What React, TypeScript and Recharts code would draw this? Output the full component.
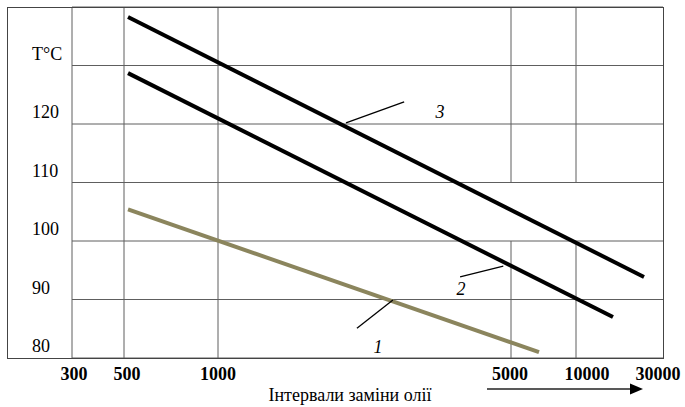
import { ComposedChart, Line, XAxis, YAxis, CartesianGrid, ReferenceLine, ReferenceDot } from "recharts"

// oil change interval (km) ticks printed under the grid
const INTERVAL_TICKS = [300, 500, 1000, 5000, 10000, 30000]
const TEMP_TICKS = [80, 90, 100, 110, 120, 130]
const TEMP_LABELS = ["80", "90", "100", "110", "120", "T°C"]

// curve 1 (olive), 2 and 3 (black): interval -> temperature
const LINE1_X = [515, 6740]
const LINE1_T = [105.4, 81.0]
const LINE2_X = [515, 15950]
const LINE2_T = [128.7, 87.0]
const LINE3_X = [515, 23600]
const LINE3_T = [138.3, 93.85]

// leader lines + curve numbers
const NOTE_NAMES = ["1", "2", "3"]
const NOTE_X = [2407, 3798, 3385]
const NOTE_T = [81.9, 91.8, 122.05]
const LEADER_X1 = [2145, 3780, 2020]
const LEADER_T1 = [85.1, 93.85, 120.2]
const LEADER_X2 = [2614, 4792, 2780]
const LEADER_T2 = [89.9, 95.7, 123.8]

// the printed grid is not a true log scale: spacing of the tick columns
const TICK_STOPS = [0, 52, 146, 439, 504, 591]
const LABEL_NUDGE = [2, 3, 0, -1, 11, -5]

const FONT = '"Liberation Serif", "Times New Roman", serif'
const GRID = "#5e5e5e"

const toAxis = (v: number) => {
  const t = INTERVAL_TICKS
  let i = 0
  while (i < t.length - 2 && v > t[i + 1]) i++
  const frac = Math.log(v / t[i]) / Math.log(t[i + 1] / t[i])
  return TICK_STOPS[i] + frac * (TICK_STOPS[i + 1] - TICK_STOPS[i])
}

const series = (xs: number[], ts: number[]) => xs.map((x, i) => ({ x: toAxis(x), t: ts[i] }))

const line1 = series(LINE1_X, LINE1_T)
const line2 = series(LINE2_X, LINE2_T)
const line3 = series(LINE3_X, LINE3_T)

const XTick = ({ x, index }: any) => (
  <text x={x + (LABEL_NUDGE[index] ?? 0)} y={380} textAnchor="middle" fontFamily={FONT} fontSize={18} fontWeight="bold" fill="#000">
    {INTERVAL_TICKS[index]}
  </text>
)

const YTick = ({ y, payload }: any) => {
  const i = TEMP_TICKS.indexOf(payload.value)
  return (
    <text x={32} y={y - 6} textAnchor="start" fontFamily={FONT} fontSize={18} fill="#000">
      {TEMP_LABELS[i]}
    </text>
  )
}

const NoteText = (name: string) => (props: any) => (
  <text x={props.cx} y={props.cy} textAnchor="middle" dominantBaseline="central" fontFamily={FONT} fontSize={18} fontStyle="italic" fill="#000">
    {name}
  </text>
)

export default function App() {
  return (
    <div style={{ position: "absolute", left: 0, top: 0, width: 685, height: 407, background: "#fff" }}>
      <ComposedChart width={685} height={407} margin={{ top: 7, right: 22, left: 7, bottom: 0 }}>
        <CartesianGrid vertical={false} stroke={GRID} />
        <XAxis
          type="number"
          dataKey="x"
          domain={[0, 591]}
          ticks={INTERVAL_TICKS.map(toAxis)}
          tick={<XTick />}
          axisLine={false}
          tickLine={false}
          height={49}
          allowDataOverflow
        />
        <YAxis
          type="number"
          domain={[80, 140]}
          ticks={TEMP_TICKS}
          tick={<YTick />}
          axisLine={false}
          tickLine={false}
          width={65}
          allowDataOverflow
        />
        <ReferenceLine x={toAxis(300)} stroke={GRID} />
        <ReferenceLine x={toAxis(500)} stroke={GRID} />
        <ReferenceLine x={toAxis(1000)} stroke={GRID} />
        <ReferenceLine segment={[{ x: toAxis(5000), y: 110 }, { x: toAxis(5000), y: 140 }]} stroke={GRID} />
        <ReferenceLine segment={[{ x: toAxis(5000), y: 80 }, { x: toAxis(5000), y: 100 }]} stroke={GRID} />
        <ReferenceLine segment={[{ x: toAxis(10000), y: 110 }, { x: toAxis(10000), y: 140 }]} stroke={GRID} />
        <ReferenceLine segment={[{ x: toAxis(10000), y: 80 }, { x: toAxis(10000), y: 100 }]} stroke={GRID} />

        <Line data={line1} dataKey="t" stroke="#8b855d" strokeWidth={4} dot={false} isAnimationActive={false} />
        <Line data={line2} dataKey="t" stroke="#000" strokeWidth={4} dot={false} isAnimationActive={false} />
        <Line data={line3} dataKey="t" stroke="#000" strokeWidth={4} dot={false} isAnimationActive={false} />

        {NOTE_NAMES.map((n, i) => (
          <ReferenceLine
            key={"l" + n}
            segment={[
              { x: toAxis(LEADER_X1[i]), y: LEADER_T1[i] },
              { x: toAxis(LEADER_X2[i]), y: LEADER_T2[i] },
            ]}
            stroke="#000"
            strokeWidth={1.3}
          />
        ))}
        {NOTE_NAMES.map((n, i) => (
          <ReferenceDot key={"n" + n} x={toAxis(NOTE_X[i])} y={NOTE_T[i]} r={0} shape={NoteText(n)} />
        ))}
      </ComposedChart>

      <div
        style={{
          position: "absolute",
          left: 7,
          top: 7,
          width: 657,
          height: 352,
          border: "1px solid #444",
          boxSizing: "border-box",
          pointerEvents: "none",
        }}
      />

      <svg width={685} height={407} style={{ position: "absolute", left: 0, top: 0, pointerEvents: "none" }}>
        <text x={350} y={401} textAnchor="middle" fontFamily={FONT} fontSize={18} fill="#000">
          Інтервали заміни олії
        </text>
        <line x1={487} y1={389} x2={632} y2={389} stroke="#222" strokeWidth={1.5} />
        <polygon points="630,383.5 643,389 630,394.5" fill="#000" />
      </svg>
    </div>
  )
}
